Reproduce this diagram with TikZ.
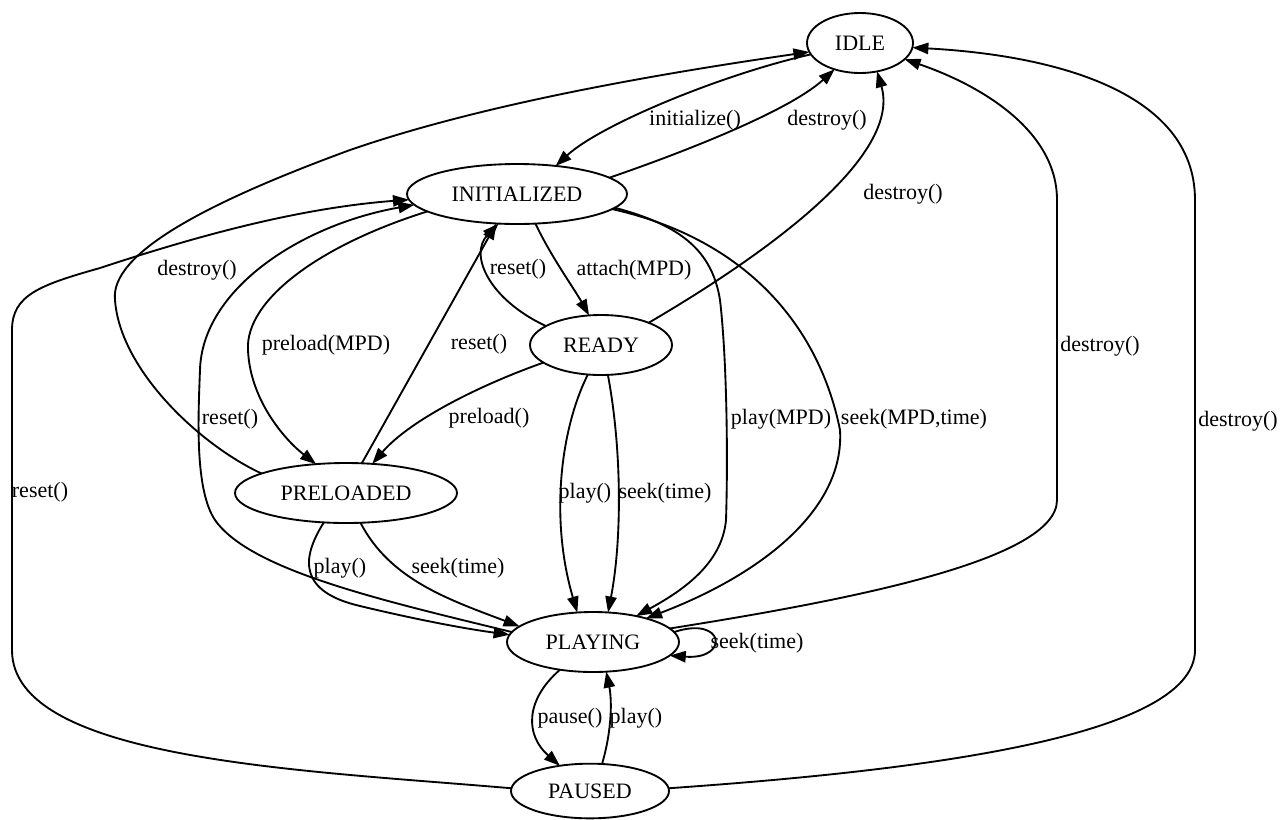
\documentclass[tikz,border=0pt]{standalone}
\usepackage{fontspec}
\setmainfont{Liberation Serif}
\usetikzlibrary{shapes.geometric,arrows.meta}
\tikzset{
  st/.style={draw, ellipse, line width=1.4pt, inner sep=0pt, outer sep=0pt},
  conn/.style={line width=1.4pt, -{Triangle[length=12pt,width=8.5pt]}},
  lab/.style={inner sep=0pt}
}
\begin{document}
\begin{tikzpicture}[x=0.75pt,y=-0.75pt,font=\fontsize{16.5}{20}\selectfont]
\useasboundingbox (0,0) rectangle (1281,819);
% states
\node[st, minimum width=79.5pt, minimum height=45pt] (IDLE) at (860,43) {IDLE};
\node[st, minimum width=165pt, minimum height=45pt] (INIT) at (517,194) {INITIALIZED};
\node[st, minimum width=106.5pt, minimum height=45pt] (READY) at (601,345) {READY};
\node[st, minimum width=166.5pt, minimum height=45pt] (PRE) at (346,493) {PRELOADED};
\node[st, minimum width=129pt, minimum height=45pt] (PLAYING) at (593,642) {PLAYING};
\node[st, minimum width=118.5pt, minimum height=41pt] (PAUSED) at (590,791) {PAUSED};
% edges
\draw[conn] (IDLE.193.5) .. controls (720,75) and (600,125) .. (INIT.36.6);
\draw[conn] (INIT.10) .. controls (690,150) and (790,110) .. (IDLE.226);
\draw[conn] (READY.25) .. controls (790,240) and (900,150) .. (IDLE.301);
\draw[conn] (INIT.302) .. controls (550,255) and (575,290) .. (READY.112);
\draw[conn] (READY.161) .. controls (490,300) and (468,255) .. (INIT.238);
\draw[conn] (PRE.62) -- (INIT.235);
\draw[conn] (INIT.191) .. controls (320,245) and (245,300) .. (248,350) .. controls (250,400) and (285,440) .. (PRE.136);
\draw[conn] (READY.197) .. controls (480,385) and (410,420) .. (PRE.48);
\draw[conn] (PRE.167) .. controls (200,445) and (120,370) .. (115,300) .. controls (110,255) and (200,205) .. (350,150) .. controls (480,105) and (650,75) .. (IDLE.190.5);
\draw[conn] (PLAYING.173) .. controls (380,600) and (250,570) .. (215,520) .. controls (195,490) and (198,420) .. (200,370) .. controls (202,290) and (300,225) .. (INIT.186.6);
\draw[conn] (PAUSED.178) .. controls (300,770) and (12,760) .. (12,650) -- (12,330) .. controls (12,295) and (40,285) .. (100,268) .. controls (200,235) and (300,208) .. (INIT.183);
\draw[conn] (INIT.352.6) .. controls (680,225) and (712,250) .. (720,300) .. controls (727,360) and (728,460) .. (726,520) .. controls (722,565) and (680,592) .. (PLAYING.31.5);
\draw[conn] (INIT.351) .. controls (750,240) and (820,330) .. (840,430) .. controls (845,510) and (760,575) .. (PLAYING.24.2);
\draw[conn] (READY.246.6) .. controls (560,430) and (550,520) .. (PLAYING.118);
\draw[conn] (READY.283) .. controls (622,450) and (622,540) .. (PLAYING.63.4);
\draw[conn] (PRE.233) .. controls (300,560) and (300,592) .. (360,606) .. controls (410,618) and (460,628) .. (PLAYING.175);
\draw[conn] (PRE.296.6) .. controls (390,580) and (450,600) .. (PLAYING.168.4);
\draw[conn] (PLAYING.7) .. controls (725,615) and (730,660) .. (PLAYING.350);
\draw[conn] (PLAYING.220.6) .. controls (525,700) and (525,735) .. (PAUSED.140);
\draw[conn] (PAUSED.66) .. controls (612,730) and (612,700) .. (PLAYING.294.3);
\draw[conn] (PLAYING.10) .. controls (850,600) and (1057,560) .. (1057,500) -- (1057,200) .. controls (1057,130) and (980,85) .. (IDLE.340);
\draw[conn] (PAUSED.2) .. controls (900,772) and (1195,740) .. (1195,650) -- (1195,200) .. controls (1195,90) and (1050,55) .. (IDLE.355.7);
% labels
\node[lab] (l1) at (695,120) {initialize()};
\node[lab] (l2) at (827,120) {destroy()};
\node[lab] (l3) at (903,194) {destroy()};
\node[lab] (l4) at (634,270) {attach(MPD)};
\node[lab] (l5) at (518,269) {reset()};
\node[lab] (l6) at (197,270) {destroy()};
\node[lab] (l7) at (326,345) {preload(MPD)};
\node[lab] (l8) at (479,344) {reset()};
\node[lab] (l9) at (489,418) {preload()};
\node[lab] (l10) at (230,419) {reset()};
\node[lab] (l11) at (781,419) {play(MPD)};
\node[lab] (l12) at (914,419) {seek(MPD,time)};
\node[lab] (l13) at (40,492) {reset()};
\node[lab] (l14) at (585,493) {play()};
\node[lab] (l15) at (665,493) {seek(time)};
\node[lab] (l16) at (340,568) {play()};
\node[lab] (l17) at (458,568) {seek(time)};
\node[lab] (l18) at (757,643) {seek(time)};
\node[lab] (l19) at (570,718) {pause()};
\node[lab] (l20) at (636,718) {play()};
\node[lab] (l21) at (1100,346) {destroy()};
\node[lab] (l22) at (1238,421) {destroy()};
\end{tikzpicture}
\end{document}
